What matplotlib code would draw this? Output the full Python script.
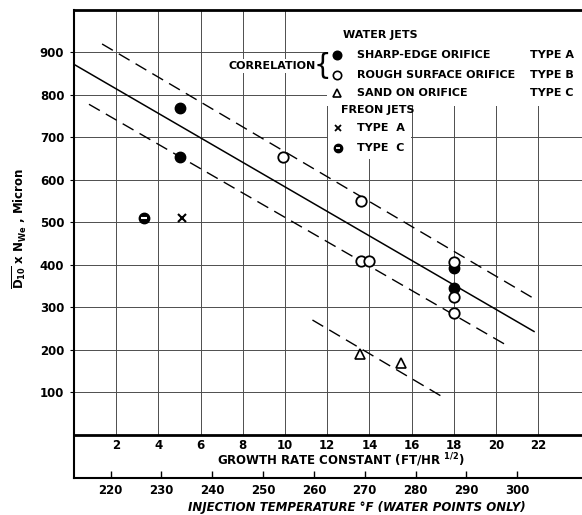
import matplotlib.pyplot as plt
from matplotlib.patches import Rectangle

# water jets
sharp_x = [5.0, 5.0, 18.0, 18.0]
sharp_y = [770, 655, 392, 345]
rough_x = [9.9, 13.6, 13.6, 14.0, 18.0, 18.0, 18.0]
rough_y = [655, 550, 410, 410, 406, 324, 286]
sand_x = [13.55, 15.5]
sand_y = [190, 168]
# freon jets
freon_a_x = [5.1]
freon_a_y = [510]
freon_c_x = [3.3]
freon_c_y = [510]

# correlation lines
corr_x = [0.0, 21.8]
corr_y = [872, 243]
upper_x = [1.33, 21.85]
upper_y = [920, 319]
lower_x = [0.71, 20.66]
lower_y = [778, 206]
sandline_x = [11.3, 17.6]
sandline_y = [270, 85]

growth_ticks = [2, 4, 6, 8, 10, 12, 14, 16, 18, 20, 22]
y_ticks = [100, 200, 300, 400, 500, 600, 700, 800, 900]
temp_ticks = [220, 230, 240, 250, 260, 270, 280, 290, 300]


def g2t(g):
    return 260 + (g - 11.37) / 0.241


def t2g(t):
    return 11.37 + (t - 260) * 0.241


plt.rcParams['font.family'] = 'DejaVu Sans'
plt.rcParams['font.weight'] = 'bold'
plt.rcParams['axes.labelweight'] = 'bold'

fig = plt.figure(figsize=(5.82, 5.15), dpi=100)
ax = fig.add_axes([74 / 582, 37 / 515, 517 / 582, 468 / 515])
ymin = -102
ax.set_xlim(0, 24.5)
ax.set_ylim(ymin, 1000)

gc = '0.3'
ax.vlines(growth_ticks, 0, 1000, color=gc, lw=0.7, zorder=1)
ax.hlines(y_ticks, 0, 24.5, color=gc, lw=0.7, zorder=1)

# white areas behind the legend
ax.add_patch(Rectangle((12, 775), 12.5, 225, facecolor='white', edgecolor='none', zorder=2))
ax.add_patch(Rectangle((12.05, 650), 3.9, 130, facecolor='white', edgecolor='none', zorder=2))

ax.plot(corr_x, corr_y, color='k', lw=1.1, zorder=3)
for lx, ly in [(upper_x, upper_y), (lower_x, lower_y), (sandline_x, sandline_y)]:
    ax.plot(lx, ly, color='k', lw=1.0, dashes=(9, 5), zorder=3)

ax.plot(sharp_x, sharp_y, 'o', color='k', ms=7.5, zorder=4)
ax.plot(rough_x, rough_y, 'o', mfc='white', mec='k', mew=1.3, ms=7.5, zorder=4)
ax.plot(sand_x, sand_y, '^', mfc='white', mec='k', mew=1.2, ms=7.5, zorder=4)
ax.plot(freon_a_x, freon_a_y, 'x', color='k', mew=1.5, ms=6, zorder=4)
ax.plot(freon_c_x, freon_c_y, 'o', color='k', ms=7.5, zorder=4)
ax.plot(freon_c_x, freon_c_y, '_', color='white', mew=1.5, ms=4, zorder=5)

# legend
fs = 8
ax.text(12.75, 941, 'WATER JETS', fontsize=fs, va='center', zorder=6)
rows = [('o', 'k', 'SHARP-EDGE ORIFICE', 'TYPE A', 894),
        ('o', 'white', 'ROUGH SURFACE ORIFICE', 'TYPE B', 846),
        ('^', 'white', 'SAND ON ORIFICE', 'TYPE C', 804)]
for m, fc, lab, typ, yy in rows:
    ax.plot([12.48], [yy], m, mfc=fc, mec='k', mew=1.2, ms=6, zorder=6)
    ax.text(13.4, yy, lab, fontsize=fs, va='center', zorder=6)
    ax.text(21.6, yy, typ, fontsize=fs, va='center', zorder=6)
ax.text(12.65, 764, 'FREON JETS', fontsize=fs, va='center', zorder=6)
ax.plot([12.5], [721], 'x', color='k', mew=1.3, ms=5, zorder=6)
ax.text(13.4, 721, 'TYPE  A', fontsize=fs, va='center', zorder=6)
ax.plot([12.5], [674], 'o', color='k', ms=6, zorder=6)
ax.plot([12.5], [674], '_', color='white', mew=1.3, ms=3.5, zorder=7)
ax.text(13.4, 674, 'TYPE  C', fontsize=fs, va='center', zorder=6)
ax.text(11.45, 868, 'CORRELATION', fontsize=fs, va='center', ha='right', zorder=6,
        bbox=dict(facecolor='white', edgecolor='none', pad=1.5))
ax.text(11.75, 869, '{', fontsize=20, fontweight='normal', va='center', ha='center', zorder=6)

# axes styling
ax.spines['right'].set_visible(False)
ax.spines['top'].set_linewidth(2.0)
ax.spines['left'].set_linewidth(1.5)
ax.spines['bottom'].set_position(('data', 0))
ax.spines['bottom'].set_linewidth(2.0)

ax.set_xticks(growth_ticks)
ax.set_xticklabels([str(t) for t in growth_ticks])
ax.tick_params(axis='x', length=0, pad=3, labelsize=8.5)
ax.set_yticks(y_ticks)
ax.set_yticklabels([str(t) for t in y_ticks])
ax.tick_params(axis='y', length=3, pad=4, labelsize=8.5)
ax.set_xlabel('GROWTH RATE CONSTANT (FT/HR $^{1/2}$)', fontsize=8.5)
ax.xaxis.set_label_coords(0.516, 0.057)
ax.set_ylabel(r'$\overline{\mathbf{D}_{\mathbf{10}}}$ x N$_{\mathbf{We}}$ , Micron', fontsize=8.5)
ax.yaxis.set_label_coords(-0.088, 0.534)

# temperature scale along the bottom frame line
sec = ax.secondary_xaxis(0, functions=(g2t, t2g))
sec.set_xticks(temp_ticks)
sec.set_xticklabels([str(t) for t in temp_ticks])
sec.tick_params(length=0, pad=4.5, labelsize=8.5)
sec.spines['bottom'].set_linewidth(1.5)
ax.vlines([t2g(t) for t in temp_ticks], ymin, ymin + 16, color='k', lw=1.0, zorder=3)
fig.text(357 / 582, 1 - 507 / 515, 'INJECTION TEMPERATURE °F (WATER POINTS ONLY)',
         fontsize=8.5, style='italic', ha='center', va='center')

fig.savefig('out.png', dpi=100)
